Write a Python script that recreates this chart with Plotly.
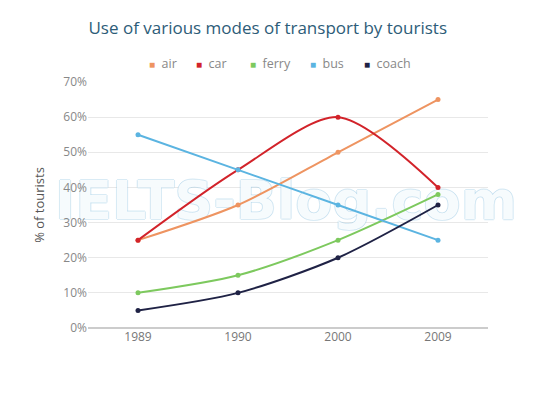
import plotly.graph_objects as go

years = ['1989', '1990', '2000', '2009']
air = [25, 35, 50, 65]
car = [25, 45, 60, 40]
ferry = [10, 15, 25, 38]
bus = [55, 45, 35, 25]
coach = [5, 10, 20, 35]

series = [
    ('air', air, '#ee9461'),
    ('car', car, '#d2232a'),
    ('ferry', ferry, '#7dc95e'),
    ('bus', bus, '#5bb4e1'),
    ('coach', coach, '#1f2245'),
]
xpos = list(range(len(years)))
legend_x = [0.148, 0.266, 0.4, 0.55, 0.685]  # where each legend entry starts (paper)

fig = go.Figure()

# watermark, drawn first so the lines sit over it
wm = 'rgba(150,200,228,0.4)'
fig.add_trace(go.Scatter(
    x=[1.48], y=[35], mode='text', text=['IELTS-Blog.com'], showlegend=False, hoverinfo='skip',
    cliponaxis=False,
    textfont=dict(family='DejaVu Sans', size=54, weight='bold', color='rgba(255,255,255,0.9)',
                  shadow=f'1px 0 0 {wm}, -1px 0 0 {wm}, 0 1px 0 {wm}, 0 -1px 0 {wm}'),
))

for name, vals, col in series:
    fig.add_trace(go.Scatter(
        x=xpos, y=vals, name=name, mode='lines+markers', showlegend=False,
        line=dict(color=col, width=2, shape='spline', smoothing=0.8),
        marker=dict(color=col, size=5, symbol='circle'),
    ))

# legend drawn by hand so the swatches sit close to the names
for (name, vals, col), lx in zip(series, legend_x):
    fig.add_annotation(
        text=f'<span style="color:{col};font-size:10px">■</span>  {name}',
        x=lx, y=1.077, xref='paper', yref='paper', xanchor='left', yanchor='middle',
        showarrow=False, font=dict(size=12.5, color='#888888'),
    )

fig.update_layout(
    width=540, height=405,
    margin=dict(l=80, r=60, t=74, b=85),
    paper_bgcolor='white', plot_bgcolor='white',
    font=dict(family='Open Sans', color='#777777', size=12),
    title=dict(text='Use of various modes of transport by tourists', x=0.481, xanchor='center',
               yref='container', y=0.95, yanchor='middle', font=dict(size=17, color='#2d5c78')),
    showlegend=False,
)
fig.update_xaxes(range=[-0.5, 3.5], tickvals=xpos, ticktext=years, showgrid=False, showline=False,
                 zeroline=False, ticks='', tickfont=dict(size=12, color='#777777'))
fig.update_yaxes(range=[0, 70], dtick=10, ticksuffix='%', gridcolor='#e8e8e8', zeroline=True,
                 zerolinecolor='#cccccc', showline=False,
                 title=dict(text='% of tourists', font=dict(size=13, color='#555555'), standoff=15),
                 tickfont=dict(size=12, color='#888888'))

fig.write_html('out.html')
